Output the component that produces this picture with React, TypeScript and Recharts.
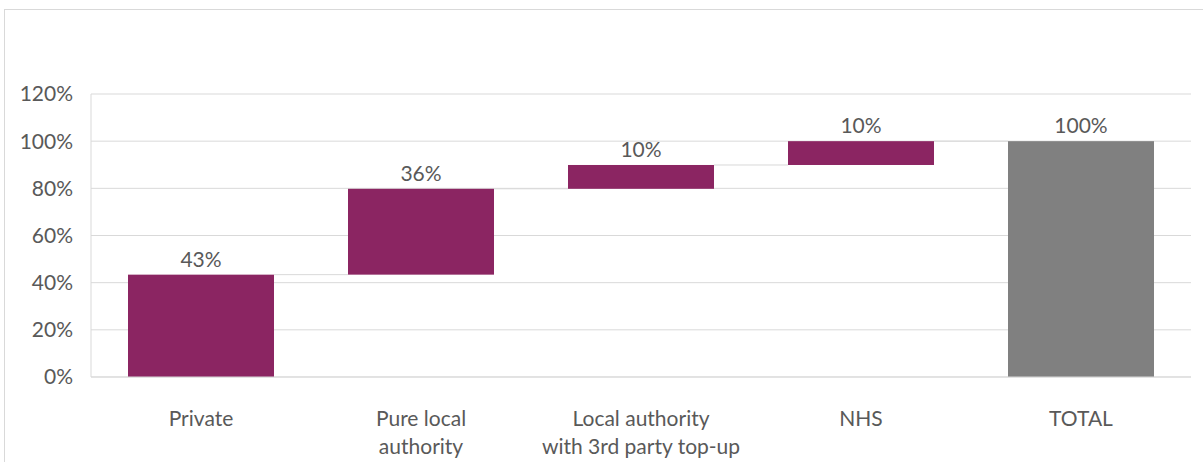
import React from 'react';
import { ComposedChart, Bar, XAxis, YAxis, CartesianGrid, Cell, LabelList } from 'recharts';

const categories = ['Private', 'Pure local authority', 'Local authority with 3rd party top-up', 'NHS', 'TOTAL'];
const tickLines = [['Private'], ['Pure local', 'authority'], ['Local authority', 'with 3rd party top-up'], ['NHS'], ['TOTAL']];
const baseValues = [0, 43.4, 79.8, 89.9, 0];
const stepValues = [43.4, 36.4, 10.1, 10.1, 100];
const valueLabels = ['43%', '36%', '10%', '10%', '100%'];
const isTotal = [false, false, false, false, true];
const yTicks = [0, 20, 40, 60, 80, 100, 120];

const PURPLE = '#8B2562';
const GREY = '#808080';
const GRID = '#D9D9D9';
const TEXT = '#595959';
const FONT = 'Lato, "Noto Sans", sans-serif';
const FS = 21;
const GAP = 37;

const data = categories.map((c, i) => ({
  name: c,
  base: baseValues[i],
  value: stepValues[i],
  label: valueLabels[i],
  total: isTotal[i],
  idx: i,
}));

const StepShape = (props: any) => {
  const { x, y, width, height, fill, payload } = props;
  const showConnector = payload && !payload.total && payload.idx < categories.length - 1;
  return (
    <g>
      <rect x={x} y={y} width={width} height={height} fill={fill} />
      {showConnector ? (
        <line x1={x + width} x2={x + width + 2 * GAP} y1={y} y2={y} stroke={GRID} strokeWidth={1} />
      ) : null}
    </g>
  );
};

const XTick = (props: any) => {
  const { x, y, index } = props;
  const lines = tickLines[index] || [];
  return (
    <g>
      {lines.map((l: string, i: number) => (
        <text key={i} x={x} y={y + 41 + i * 28} textAnchor="middle" fill={TEXT} fontSize={FS} fontFamily={FONT}>
          {l}
        </text>
      ))}
    </g>
  );
};

export default function App() {
  return (
    <div style={{ position: 'absolute', left: 0, top: 0, width: 1203, height: 462, overflow: 'hidden', background: '#fff' }}>
      <div style={{ position: 'absolute', left: 4, top: 9, width: 1300, height: 600, border: `1.5px solid ${GRID}`, boxSizing: 'border-box' }} />
      <div style={{ position: 'absolute', left: 0, top: 0 }}>
        <ComposedChart
          width={1203}
          height={462}
          data={data}
          margin={{ top: 94, right: 12, bottom: 0, left: 0 }}
          barCategoryGap={GAP}
        >
          <CartesianGrid vertical={false} stroke={GRID} strokeWidth={1} />
          <XAxis
            dataKey="name"
            axisLine={{ stroke: GRID }}
            tickLine={false}
            interval={0}
            tick={<XTick />}
            height={85}
          />
          <YAxis
            width={91}
            domain={[0, 120]}
            ticks={yTicks}
            tickFormatter={(v: number) => `${v}%`}
            axisLine={{ stroke: GRID }}
            tickLine={false}
            tickSize={6}
            tickMargin={12}
            tick={{ fill: TEXT, fontSize: FS, fontFamily: FONT }}
            interval={0}
          />
          <Bar dataKey="base" stackId="a" fill="transparent" isAnimationActive={false} />
          <Bar dataKey="value" stackId="a" isAnimationActive={false} shape={<StepShape />}>
            {data.map((d, i) => (
              <Cell key={i} fill={d.total ? GREY : PURPLE} />
            ))}
            <LabelList dataKey="label" position="top" offset={8} fill={TEXT} fontSize={FS} fontFamily={FONT} />
          </Bar>
        </ComposedChart>
      </div>
    </div>
  );
}
